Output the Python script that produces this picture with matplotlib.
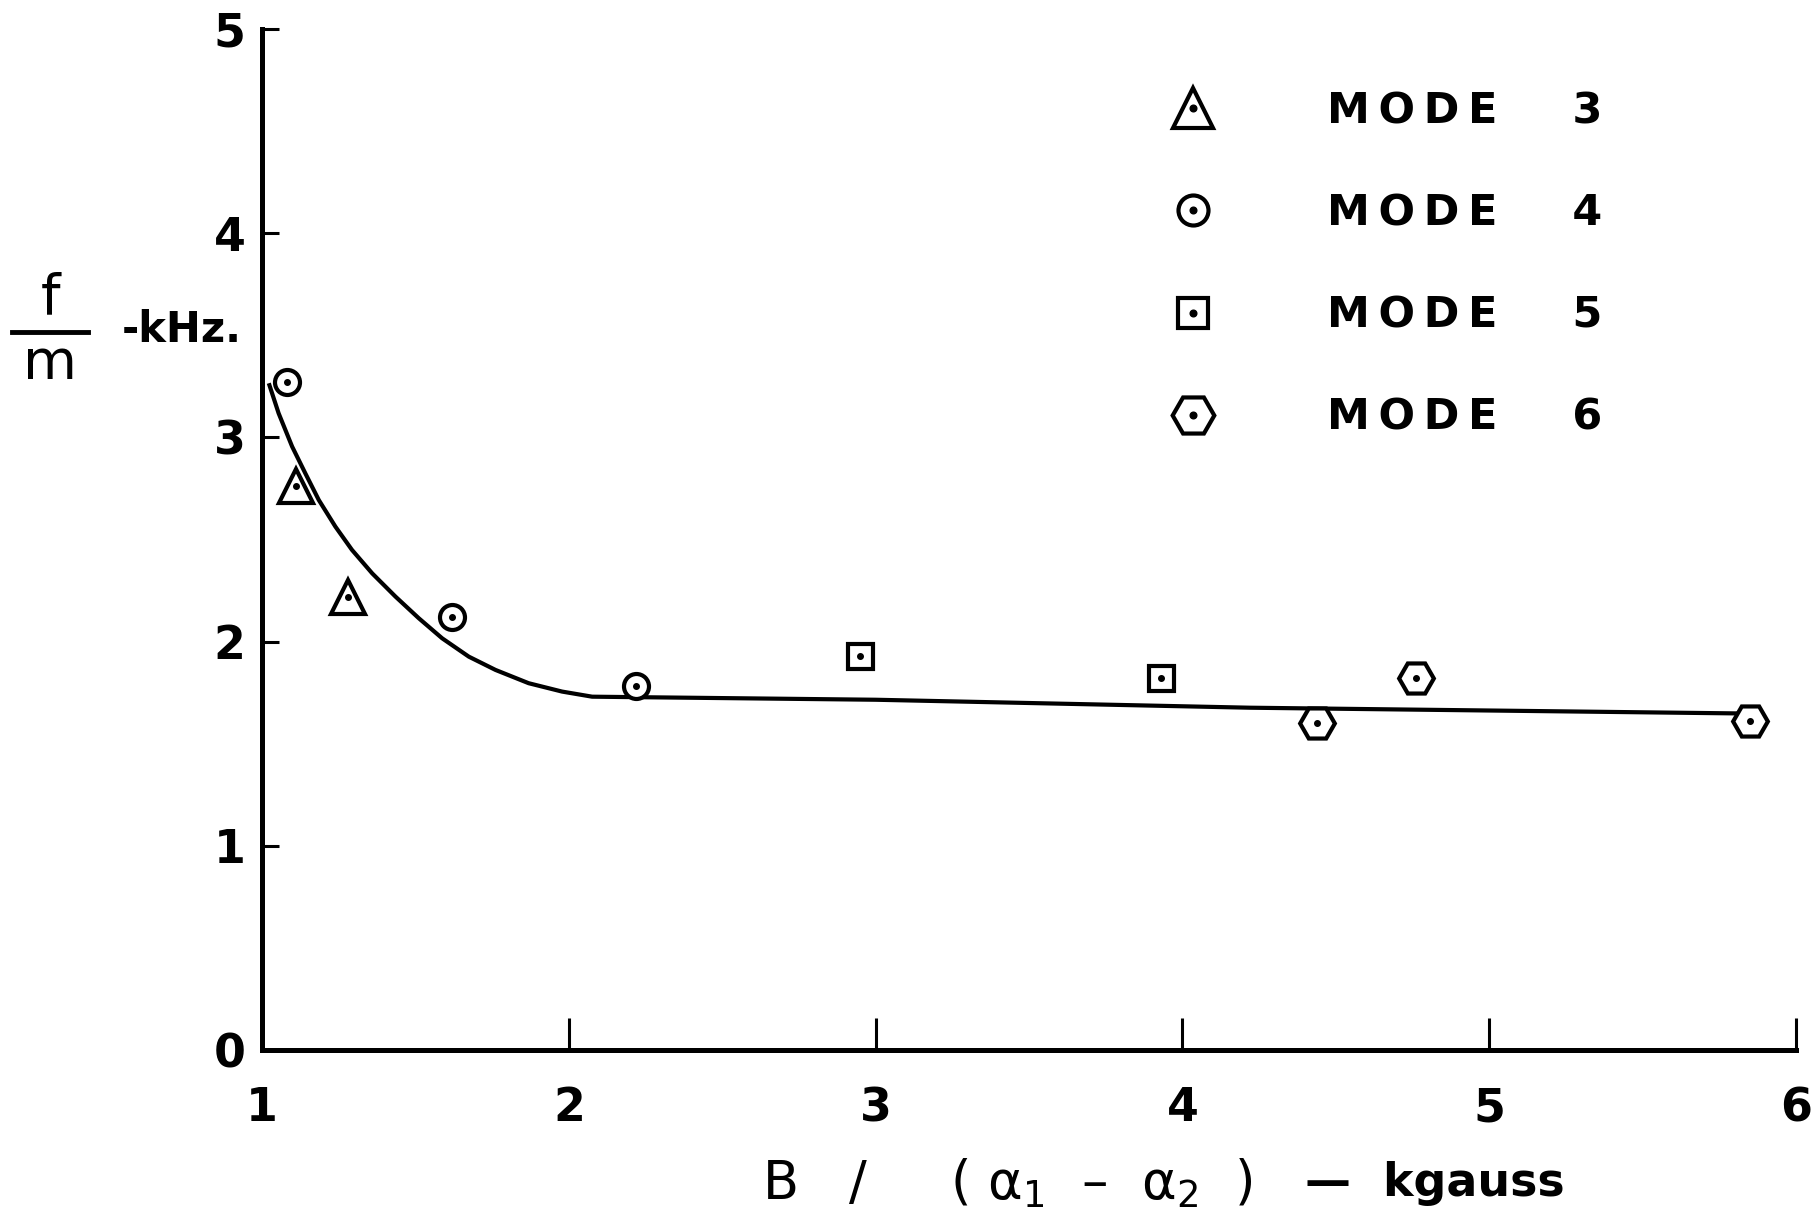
import matplotlib.pyplot as plt
from matplotlib.lines import Line2D
from matplotlib.legend_handler import HandlerTuple

# measured points, one list per mode
mode3_x = [1.11, 1.28]
mode3_y = [2.76, 2.22]
mode4_x = [1.08, 1.62, 2.22]
mode4_y = [3.27, 2.12, 1.78]
mode5_x = [2.95, 3.93]
mode5_y = [1.93, 1.82]
mode6_x = [4.44, 4.76, 5.85]
mode6_y = [1.60, 1.82, 1.61]

# hand-drawn trend curve
curve_x = [1.022, 1.054, 1.098, 1.141, 1.185, 1.239, 1.293, 1.359, 1.435, 1.511,
           1.587, 1.674, 1.761, 1.869, 1.978, 2.076, 2.20, 3.00, 4.22, 5.87]
curve_y = [3.265, 3.118, 2.955, 2.824, 2.693, 2.563, 2.449, 2.334, 2.220, 2.114,
           2.016, 1.926, 1.861, 1.796, 1.755, 1.730, 1.728, 1.715, 1.676, 1.647]

xticks = [1, 2, 3, 4, 5, 6]
yticks = [0, 1, 2, 3, 4, 5]
mode_nums = ['3', '4', '5', '6']
mode_labels = ['M\u2009O\u2009D\u2009E     ' + n for n in mode_nums]

plt.rcParams['font.family'] = 'DejaVu Sans'

fig = plt.figure(figsize=(18.11, 12.22), dpi=100)
ax = fig.add_axes([0.1447, 0.1408, 0.9917 - 0.1447, 0.9763 - 0.1408])

ax.plot(curve_x, curve_y, color='black', lw=3.0, solid_capstyle='butt',
        solid_joinstyle='round')

styles = [('^', 24), ('o', 18), ('s', 18), ('H', 25)]
series = [(mode3_x, mode3_y), (mode4_x, mode4_y),
          (mode5_x, mode5_y), (mode6_x, mode6_y)]
handles = []
for (mk, ms), (xs, ys) in zip(styles, series):
    h1, = ax.plot(xs, ys, ls='none', marker=mk, ms=ms, mfc='white',
                  mec='black', mew=3.0, zorder=3)
    h2, = ax.plot(xs, ys, ls='none', marker='o', ms=4, color='black', zorder=4)
    handles.append((h1, h2))

leg = ax.legend(handles, mode_labels, handler_map={tuple: HandlerTuple(ndivide=1)},
                loc='upper left', bbox_to_anchor=(0.579, 0.957), frameon=False,
                prop={'size': 31, 'weight': 'bold'}, labelspacing=1.4,
                handlelength=1.2, handletextpad=2.5, borderaxespad=0,
                markerscale=1.2)

ax.set_xlim(1, 6)
ax.set_ylim(0, 5)
ax.set_xticks(xticks)
ax.set_yticks(yticks)
ax.set_xticklabels([str(v) for v in xticks], fontweight='bold')
ax.set_yticklabels([str(v) for v in yticks], fontweight='bold')

for s in ['top', 'right']:
    ax.spines[s].set_visible(False)
for s in ['left', 'bottom']:
    ax.spines[s].set_linewidth(3.6)

ax.tick_params(axis='x', direction='in', length=23, width=2.2, pad=26, labelsize=33)
ax.tick_params(axis='y', direction='in', length=12, width=2.2, pad=12, labelsize=33)

# y axis label: f over m, -kHz.
fig.text(50 / 1811, 1 - 298 / 1222, 'f', fontsize=40, ha='center', va='center')
fig.text(50 / 1811, 1 - 364 / 1222, 'm', fontsize=40, ha='center', va='center')
fig.add_artist(Line2D([12 / 1811, 88 / 1811], [1 - 332 / 1222, 1 - 332 / 1222],
                      transform=fig.transFigure, color='black', lw=3.5))
fig.text(122 / 1811, 1 - 330 / 1222, '-kHz.', fontsize=30, fontweight='bold',
         ha='left', va='center')

# x axis label
fig.text(762 / 1811, 1 - 1183 / 1222, 'B   /     ( α$_1$  –  α$_2$  )',
         fontsize=38, ha='left', va='center')
fig.text(1305 / 1811, 1 - 1183 / 1222, '—  kgauss', fontsize=33, fontweight='bold',
         ha='left', va='center')

fig.savefig('out.png', dpi=100)
